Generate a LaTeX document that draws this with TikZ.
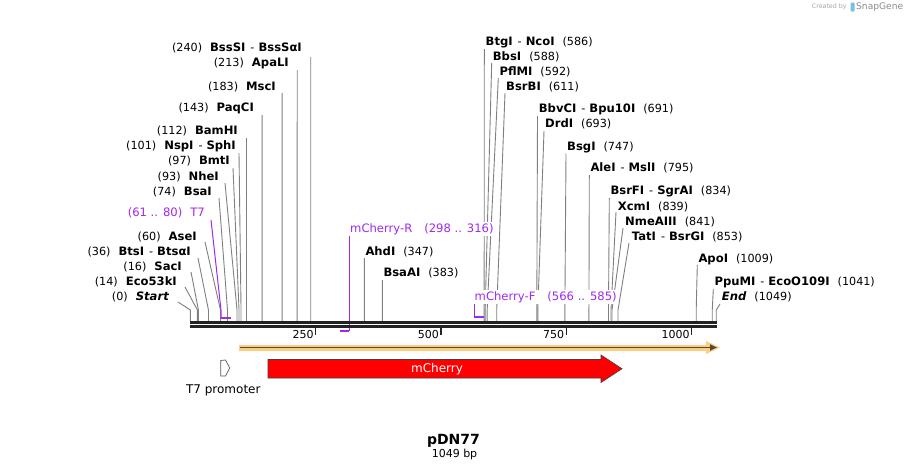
\documentclass[tikz,border=0pt]{standalone}
\usepackage{fontspec}
\setmainfont{DejaVu Sans}
\usetikzlibrary{arrows.meta}
\pgfdeclarelayer{back}
\pgfdeclarelayer{bg}
\pgfsetlayers{back,bg,main}
\definecolor{prim}{RGB}{160,40,240}
\definecolor{ldrgray}{RGB}{128,128,128}
\definecolor{bbone}{RGB}{34,34,34}
\definecolor{featorange}{RGB}{250,205,130}
\definecolor{featdark}{RGB}{85,72,50}
\definecolor{sgblue}{RGB}{120,190,230}
\newcommand\nm[1]{{\fontsize{11.6}{13}\selectfont\bfseries #1}}
\newcommand\gp{\hspace{8pt}}
\newcommand\dsh{\hspace{5pt}-\hspace{4pt}}
\newcommand\X[1]{190.4+#1*0.5013}
\tikzset{
  lbl/.style={font=\fontsize{11.2}{13}\selectfont, inner sep=1pt, fill=white},
  plbl/.style={font=\fontsize{11.6}{13}\selectfont, text=prim, inner sep=1pt, fill=white},
  ldr/.style={draw=ldrgray, line width=0.9pt},
  prm/.style={draw=prim, line width=1pt},
  prmbar/.style={draw=prim, line width=2pt},
}
% id, x(east), y, text, start x, start y, bp
\newcommand\leftenz[7]{%
  \node[lbl, anchor=east] (#1) at (#2,#3) {#4};
  \coordinate (#1-s) at (#5,#6);
  \coordinate (#1-k) at ({\X{#7}},310);
  \coordinate (#1-c) at ({\X{#7}},321);
  \begin{pgfonlayer}{bg}\draw[ldr] (#1-s) -- (#1-k) -- (#1-c);\end{pgfonlayer}
}
\newcommand\rightenz[7]{%
  \node[lbl, anchor=west] (#1) at (#2,#3) {#4};
  \coordinate (#1-s) at (#5,#6);
  \coordinate (#1-k) at ({\X{#7}},310);
  \coordinate (#1-c) at ({\X{#7}},321);
  \begin{pgfonlayer}{bg}\draw[ldr] (#1-s) -- (#1-k) -- (#1-c);\end{pgfonlayer}
}
\begin{document}
\begin{tikzpicture}[x=1pt,y=-1pt]
\begin{pgfonlayer}{back}
\fill[white] (0,0) rectangle (909,471);
\end{pgfonlayer}
\useasboundingbox (0,0) rectangle (909,471);

% backbone
\draw[bbone, line width=2.3pt] (190,322.5) -- (717,322.5);
\draw[bbone, line width=2.7pt] (190,326.3) -- (717,326.3);
\foreach \t in {250,500,750,1000}{
  \draw[bbone, line width=1.4pt] ({\X{\t}},326) -- ({\X{\t}},335);
  \node[font=\fontsize{11}{13}\selectfont, anchor=east, inner sep=0pt] (tick\t) at ({\X{\t}-2},334.5) {\t};
}

% left enzymes
\leftenz{start}{170}{297}{(0)\gp\nm{\itshape Start}}{178}{302}{0}
\leftenz{eco}{178}{282}{(14)\gp\nm{Eco53kI}}{185}{287}{14}
\leftenz{sac}{183}{267}{(16)\gp\nm{SacI}}{191}{272}{16}
\leftenz{bts}{192}{252}{(36)\gp\nm{BtsI}\dsh\nm{BtsαI}}{198}{258}{36}
\leftenz{ase}{198}{237}{(60)\gp\nm{AseI}}{205}{242}{60}
\leftenz{bsa}{213}{192}{(74)\gp\nm{BsaI}}{219}{198}{74}
\leftenz{nhe}{220}{177}{(93)\gp\nm{NheI}}{225}{183}{93}
\leftenz{bmt}{231}{161}{(97)\gp\nm{BmtI}}{233}{168}{97}
\leftenz{nsp}{237}{146}{(101)\gp\nm{NspI}\dsh\nm{SphI}}{239}{153}{101}
\leftenz{bam}{239}{131}{(112)\gp\nm{BamHI}}{246.5}{138}{112}
\leftenz{paq}{255}{108}{(143)\gp\nm{PaqCI}}{262.1}{115}{143}
\leftenz{msc}{277}{87}{(183)\gp\nm{MscI}}{282.1}{93}{183}
\leftenz{apa}{290}{63}{(213)\gp\nm{ApaLI}}{297.2}{70}{213}
\leftenz{bss}{303}{48}{(240)\gp\nm{BssSI}\dsh\nm{BssSαI}}{310.7}{57}{240}

% right enzymes
\rightenz{ahd}{364.3}{252}{\nm{AhdI}\gp(347)}{364.3}{258}{347}
\rightenz{bsaa}{382.3}{273}{\nm{BsaAI}\gp(383)}{382.4}{280}{383}
\rightenz{btg}{484.5}{43}{\nm{BtgI}\dsh\nm{NcoI}\gp(586)}{484.3}{49}{586}
\rightenz{bbs}{491.7}{57}{\nm{BbsI}\gp(588)}{491.7}{63}{588}
\rightenz{pfl}{498.3}{72}{\nm{PflMI}\gp(592)}{498.3}{78}{592}
\rightenz{bsrb}{505}{87}{\nm{BsrBI}\gp(611)}{505}{93}{611}
\rightenz{bbv}{537.7}{109}{\nm{BbvCI}\dsh\nm{Bpu10I}\gp(691)}{537.5}{116}{691}
\rightenz{drd}{544}{124}{\nm{DrdI}\gp(693)}{544}{131}{693}
\rightenz{bsg}{566}{147}{\nm{BsgI}\gp(747)}{566}{153}{747}
\rightenz{ale}{589.3}{168}{\nm{AleI}\dsh\nm{MslI}\gp(795)}{589.3}{175}{795}
\rightenz{bsrf}{609.3}{191}{\nm{BsrFI}\dsh\nm{SgrAI}\gp(834)}{609.3}{198}{834}
\rightenz{xcm}{616.7}{207}{\nm{XcmI}\gp(839)}{616}{212}{839}
\rightenz{nme}{624}{222}{\nm{NmeAIII}\gp(841)}{623}{228}{841}
\rightenz{tat}{630.7}{237}{\nm{TatI}\dsh\nm{BsrGI}\gp(853)}{629}{243}{853}
\rightenz{apo}{697.3}{259}{\nm{ApoI}\gp(1009)}{697.3}{265}{1009}
\rightenz{ppu}{713.3}{282}{\nm{PpuMI}\dsh\nm{EcoO109I}\gp(1041)}{713.3}{289}{1041}
\rightenz{end}{720.7}{297}{\nm{\itshape End}\gp(1049)}{720}{304}{1049}

% primers
\node[plbl, anchor=east] (t7) at (206,213) {(61 .. 80)\gp T7};
\coordinate (t7-s) at (211,220);
\coordinate (t7-k) at (221,310);
\coordinate (t7-a) at (221,318);
\coordinate (t7-b) at (230.5,318);
\node[plbl, anchor=west] (mcr) at (349,229) {mCherry-R\hspace{12pt}(298 .. 316)};
\coordinate (mcr-s) at (349.3,235);
\coordinate (mcr-a) at (349.3,331);
\coordinate (mcr-b) at (339.8,331);
\node[plbl, anchor=west] (mcf) at (473.5,297) {mCherry-F\hspace{12pt}(566 .. 585)};
\coordinate (mcf-s) at (474.1,302);
\coordinate (mcf-a) at (474.1,317);
\coordinate (mcf-b) at (483.7,317);
\begin{pgfonlayer}{bg}
  \draw[prm] (t7-s) -- (t7-k) -- (t7-a);
  \draw[prmbar] (t7-a) -- (t7-b);
  \draw[prm] (mcr-s) -- (mcr-a);
  \draw[prmbar] (mcr-b) -- (mcr-a);
  \draw[prm] (mcf-s) -- (mcf-a);
  \draw[prmbar] (mcf-a) -- (mcf-b);
\end{pgfonlayer}

% orange feature arrow
\coordinate (oa) at (239,347.5);
\coordinate (ob) at (717,347.5);
\draw[featorange, line width=6pt] (oa) -- (709,347.5);
\fill[featorange] (706,341) -- (720,347.5) -- (706,354) -- cycle;
\draw[featdark, line width=1.8pt, -{Triangle[length=7pt,width=6pt]}] (240,347.5) -- (ob);

% mCherry arrow
\draw[draw=black!75, fill=red, line width=0.6pt]
  (268,359.5) -- (601,359.5) -- (601,355) -- (622,368.75) -- (601,382.5) -- (601,378) -- (268,378) -- cycle;
\node[font=\fontsize{12}{14}\selectfont, text=white, inner sep=0pt] (mch) at (437,368.75) {mCherry};

% T7 promoter
\draw[draw=black!65, fill=white, line width=0.7pt]
  (220.7,360.5) -- (225.5,360) -- (229.7,368) -- (225.5,376) -- (220.7,376) -- cycle;
\node[font=\fontsize{12}{14}\selectfont, inner sep=0pt] (t7p) at (223.3,390) {T7 promoter};

% title
\node[font=\fontsize{14}{16}\selectfont\bfseries, inner sep=0pt] (title) at (453.5,440.5) {pDN77};
\node[font=\fontsize{11}{13}\selectfont, inner sep=0pt] (len) at (454.5,454.5) {1049 bp};

% watermark
\node[font=\fontsize{6.3}{8}\selectfont, text=black!35, anchor=west, inner sep=0pt] (cb) at (811.7,7) {Created by};
\fill[sgblue, rounded corners=1pt] (850.5,2.5) rectangle (854.5,11.5);
\node[font=\fontsize{9.1}{11}\selectfont, text=black!45, anchor=west, inner sep=0pt] (sg) at (856,7) {SnapGene};
\end{tikzpicture}
\end{document}
